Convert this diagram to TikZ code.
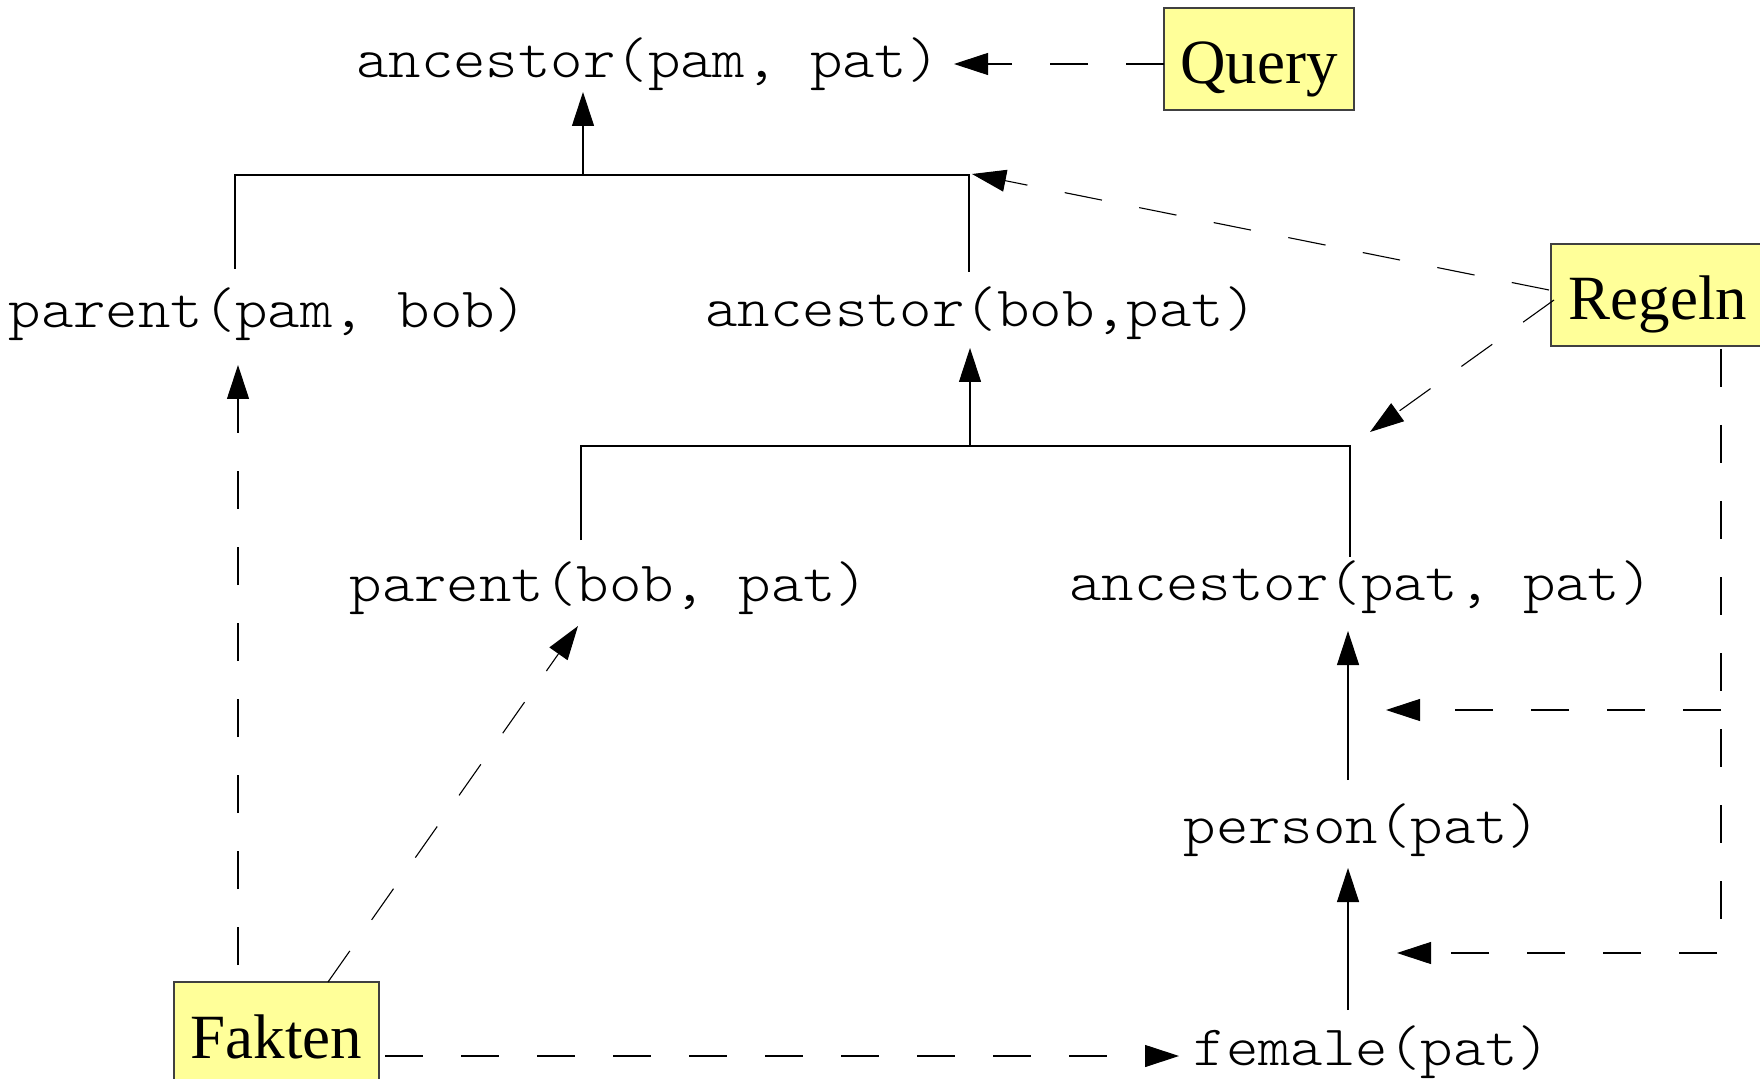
\documentclass[tikz,border=0pt]{standalone}
\usepackage{fontspec}
\setmainfont{Liberation Serif}
\newfontfamily\courbase[FakeStretch=1.083]{Latin Modern Mono Light}
\usetikzlibrary{arrows.meta}
\definecolor{boxyellow}{HTML}{FFFF99}
\newcommand\courfont{\courbase\fontsize{28.5}{31}\selectfont}
\tikzset{
  term/.style={font=\courfont, inner sep=0pt, anchor=center},
  tag/.style={draw=black!75, line width=0.6pt, fill=boxyellow, inner sep=0pt,
              minimum height=51pt, text height=25pt, text depth=0pt,
              font=\fontsize{31.5}{34}\selectfont},
  conn/.style={line width=0.55pt},
  tip/.style={-{Triangle[length=17pt,width=11pt]}},
  dsh/.style={conn, dash pattern=on 19pt off 19pt},
}
\begin{document}
\begin{tikzpicture}[x=0.5pt, y=-0.5pt]
\path[use as bounding box, fill=white] (0,0) rectangle (1760,1079);

% terms
\node[term] (a1) at (648,64)  {ancestor(pam, pat)};
\node[term] (p1) at (268,314) {parent(pam, bob)};
\node[term] (a2) at (981,313) {ancestor(bob,pat)};
\node[term] (p2) at (609,588)   {parent(bob, pat)};
\node[term] (a3) at (1361,587)  {ancestor(pat, pat)};
\node[term] (pe) at (1362,830) {person(pat)};
\node[term] (fe) at (1372,1052) {female(pat)};

% tags
\node[tag, minimum width=95pt]  (Q) at (1259,59)   {Query};
\node[tag, minimum width=107pt] (R) at (1658,295)  {Regeln};
\node[tag, minimum width=102.5pt] (F) at (276.5,1033) {Fakten};

% tree 1
\coordinate (b1l) at (235,175);
\coordinate (b1m) at (583,175);
\coordinate (b1r) at (969,175);
\coordinate (p1top) at (235,269);
\coordinate (a2top) at (969,272);
\coordinate (a1bot) at (583,92);
\draw[conn] (p1top) -- (b1l) -- (b1r) -- (a2top);
\draw[conn, tip] (b1m) -- (a1bot);

% tree 2
\coordinate (b2l) at (581,446);
\coordinate (b2m) at (970,446);
\coordinate (b2r) at (1350,446);
\coordinate (p2top) at (581,540);
\coordinate (a3top) at (1350,557);
\coordinate (a2bot) at (970,348);
\draw[conn] (p2top) -- (b2l) -- (b2r) -- (a3top);
\draw[conn, tip] (b2m) -- (a2bot);

% chain person / female
\coordinate (a3bot) at (1348,631);
\coordinate (pebot) at (1348,868);
\coordinate (petop) at (1348,780);
\coordinate (fetop) at (1348,1010);
\draw[conn, tip] (petop) -- (a3bot);
\draw[conn, tip] (fetop) -- (pebot);

% Query
\coordinate (qs) at (1164,64);
\coordinate (qt) at (954,64);
\draw[dsh, tip] (qs) -- (qt);

% Regeln
\coordinate (r1s) at (1549,290);
\coordinate (r1t) at (972,174);
\draw[dsh, tip] (r1s) -- (r1t);
\coordinate (r2s) at (1554,300);
\coordinate (r2t) at (1370,432);
\draw[dsh, tip] (r2s) -- (r2t);
\coordinate (rv) at (1721,349);
\coordinate (rc) at (1721,953);
\coordinate (rb) at (1721,710);
\coordinate (rt3) at (1397,953);
\coordinate (rt4) at (1386,710);
\draw[dsh, tip] (rv) -- (rc) -- (rt3);
\draw[dsh, tip] (rb) -- (rt4);

% Fakten
\coordinate (f1s) at (385,1056);
\coordinate (f1t) at (1179,1056);
\draw[dsh, tip] (f1s) -- (f1t);
\coordinate (f2s) at (238,965);
\coordinate (f2t) at (238,365);
\draw[dsh, tip] (f2s) -- (f2t);
\coordinate (f3s) at (328,982);
\coordinate (f3t) at (578,626);
\draw[dsh, tip] (f3s) -- (f3t);
\end{tikzpicture}
\end{document}
